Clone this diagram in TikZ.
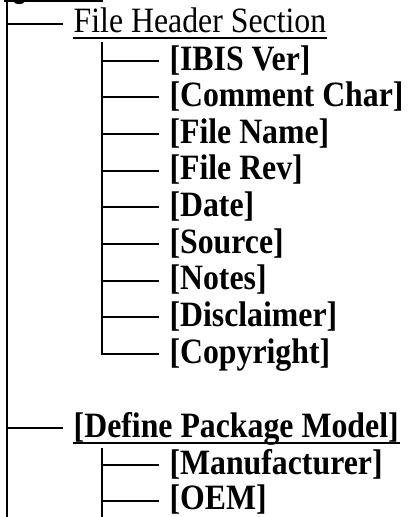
\documentclass[tikz,border=0pt]{standalone}
\usepackage{fontspec}
\setmainfont{Liberation Serif}
\newcommand\tallbox[1]{\scalebox{1}[1.12]{#1}}
\begin{document}
\begin{tikzpicture}[x=1pt,y=-1pt,line width=2pt,
  lbl/.style={anchor=base west,inner sep=0pt,font=\fontsize{31.8}{38}\selectfont},
  blbl/.style={anchor=base west,inner sep=0pt,font=\fontsize{31.8}{38}\selectfont\bfseries},
  branch/.style={line width=2pt,shorten >=9.7pt},
  uline/.style={line width=2pt}]
\useasboundingbox (0,0) rectangle (409,517);
% cut-off underline of the label above
\fill (4,0) rectangle (103,2);
\fill (13.5,1.5) .. controls (15,5) and (23,5) .. (25,1.5) -- cycle;
% trunk
\coordinate (ttop) at (7,0);
\coordinate (tbot) at (7,517);
\draw (ttop) -- (tbot);
% File Header Section
\coordinate (jfh) at (7,23.7);
\node[lbl] (fh) at (72.7,32.7) {\tallbox{File Header Section}};
\draw[branch] (jfh) -- (jfh -| fh.west);
\draw[uline] ([yshift=-5pt]fh.base west) -- ([yshift=-5pt]fh.base east);
% sub items
\node[blbl] (i1) at (168.5,70) {\tallbox{[IBIS Ver]}};
\node[blbl] (i2) at (168.5,106.6) {\tallbox{[Comment Char]}};
\node[blbl] (i3) at (168.5,143.3) {\tallbox{[File Name]}};
\node[blbl] (i4) at (168.5,179.9) {\tallbox{[File Rev]}};
\node[blbl] (i5) at (168.5,216.6) {\tallbox{[Date]}};
\node[blbl] (i6) at (168.5,253.3) {\tallbox{[Source]}};
\node[blbl] (i7) at (168.5,289.9) {\tallbox{[Notes]}};
\node[blbl] (i8) at (168.5,326.6) {\tallbox{[Disclaimer]}};
\node[blbl] (i9) at (168.5,363.3) {\tallbox{[Copyright]}};
\coordinate (s1) at (102.3,41.5);
\coordinate (j1) at (102.3,60.7);
\coordinate (j2) at (102.3,97.3);
\coordinate (j3) at (102.3,134.0);
\coordinate (j4) at (102.3,170.6);
\coordinate (j5) at (102.3,207.3);
\coordinate (j6) at (102.3,244.0);
\coordinate (j7) at (102.3,280.6);
\coordinate (j8) at (102.3,317.3);
\coordinate (j9) at (102.3,354.0);
\draw[shorten >=9.2pt] (s1) -- (j9) -- (j9 -| i9.west);
\foreach \k in {1,...,8} \draw[shorten >=9.2pt] (j\k) -- (j\k -| i\k.west);
% Define Package Model
\coordinate (jdp) at (7,428);
\node[blbl] (dp) at (72.7,437.3) {\tallbox{[Define Package Model]}};
\draw[branch] (jdp) -- (jdp -| dp.west);
\draw[uline] ([yshift=-5.5pt]dp.base west) -- ([yshift=-5.5pt]dp.base east);
\node[blbl] (m1) at (168.5,474.3) {\tallbox{[Manufacturer]}};
\node[blbl] (m2) at (168.5,509.5) {\tallbox{[OEM]}};
\coordinate (s2) at (102.3,447.5);
\coordinate (s2b) at (102.3,517);
\coordinate (k1) at (102.3,465);
\coordinate (k2) at (102.3,500.5);
\draw (s2) -- (s2b);
\draw[shorten >=9.2pt] (k1) -- (k1 -| m1.west);
\draw[shorten >=9.2pt] (k2) -- (k2 -| m2.west);
\end{tikzpicture}
\end{document}
